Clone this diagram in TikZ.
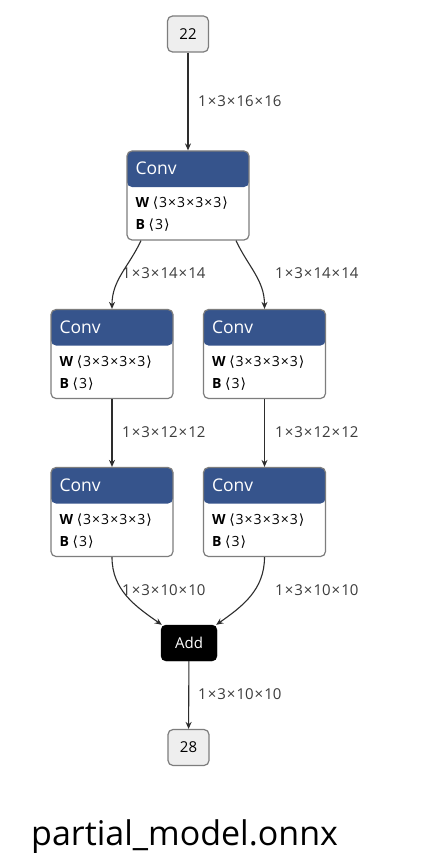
\documentclass[tikz,border=0pt]{standalone}
\usepackage{fontspec}
\setmainfont{Open Sans}
\newfontfamily\symfont{DejaVu Sans}
\usetikzlibrary{arrows.meta}

\definecolor{convblue}{RGB}{54,84,140}
\definecolor{edgegray}{RGB}{45,45,45}
\definecolor{boxgray}{RGB}{125,125,125}
\definecolor{iofill}{RGB}{238,238,238}
\definecolor{labelgray}{RGB}{60,60,60}

% spaced multiplication sign
\newcommand{\by}{\kern1pt×\kern1pt}
\newcommand{\lang}{{\symfont ⟨}\kern1pt}
\newcommand{\rang}{\kern1pt{\symfont ⟩}}

\tikzset{
  convbox/.style={draw=boxgray, line width=1.2pt, rounded corners=5pt, fill=white,
    minimum width=122pt, minimum height=89pt, inner sep=0pt,
    path picture={\fill[convblue] (path picture bounding box.north west)
      rectangle ([yshift=-36pt]path picture bounding box.north east);}},
  iobox/.style={draw=boxgray, line width=1.2pt, rounded corners=5pt, fill=iofill,
    minimum width=41pt, minimum height=36pt, inner sep=0pt, font=\fontsize{15}{17}\selectfont},
  addbox/.style={draw=black, rounded corners=5pt, fill=black, text=white,
    minimum width=56pt, minimum height=36pt, inner sep=0pt, font=\fontsize{15}{17}\selectfont},
  flow/.style={-{Stealth[length=7pt,width=6pt]}, line width=1.1pt, draw=edgegray},
  dimlabel/.style={anchor=west, inner sep=0pt, text=labelgray, font=\fontsize{15}{17}\selectfont},
  rowtext/.style={anchor=west, inner sep=0pt, font=\fontsize{14}{16}\selectfont}
}

% one Conv box: name, x, y
\newcommand{\convnode}[3]{%
  \node[convbox] (#1) at (#2,#3) {};
  \node[anchor=west, inner sep=0pt, text=white, font=\fontsize{17.5}{20}\selectfont]
    (#1title) at ([xshift=9pt,yshift=-18pt]#1.north west) {Conv};
  \node[rowtext] (#1w) at ([xshift=9pt,yshift=-53pt]#1.north west)
    {\textbf{W} \lang 3\by3\by3\by3\rang};
  \node[rowtext] (#1b) at ([xshift=9pt,yshift=-75pt]#1.north west)
    {\textbf{B} \lang 3\rang};
}

\begin{document}
\begin{tikzpicture}[x=1pt, y=1pt]

\useasboundingbox[fill=white] (0,0) rectangle (423,-853);

% nodes
\node[iobox] (in22) at (188,-34) {22};
\convnode{conv0}{188}{-195.5}
\convnode{conv1}{112}{-354}
\convnode{conv2}{264.5}{-354}
\convnode{conv3}{112}{-512}
\convnode{conv4}{264.5}{-512}
\node[addbox] (add) at (189,-643) {Add};
\node[iobox] (out28) at (188.5,-747.5) {28};

% edges
\draw[flow] (in22) -- (conv0);
\draw[flow] ([xshift=-47pt]conv0.south) to[out=-115, in=90] (conv1.north);
\draw[flow] ([xshift=48pt]conv0.south) to[out=-65, in=90] (conv2.north);
\draw[flow] (conv1) -- (conv3);
\draw[flow] (conv2) -- (conv4);
\draw[flow] (conv3.south) to[out=-90, in=145] ([xshift=1pt]add.north west);
\draw[flow] (conv4.south) to[out=-90, in=35] ([xshift=-1pt]add.north east);
\draw[flow] (add) -- (out28);

% edge labels
\node[dimlabel] (l0) at (198,-101) {1\by3\by16\by16};
\node[dimlabel] (l1) at (122,-273) {1\by3\by14\by14};
\node[dimlabel] (l2) at (275,-273) {1\by3\by14\by14};
\node[dimlabel] (l3) at (122,-432) {1\by3\by12\by12};
\node[dimlabel] (l4) at (275,-432) {1\by3\by12\by12};
\node[dimlabel] (l5) at (122,-590) {1\by3\by10\by10};
\node[dimlabel] (l6) at (275,-590) {1\by3\by10\by10};
\node[dimlabel] (l7) at (198,-694) {1\by3\by10\by10};

% file name
\node[anchor=base west, inner sep=0pt, font=\fontsize{34}{38}\selectfont] (caption) at (31,-845) {partial\_model.onnx};

\end{tikzpicture}
\end{document}
